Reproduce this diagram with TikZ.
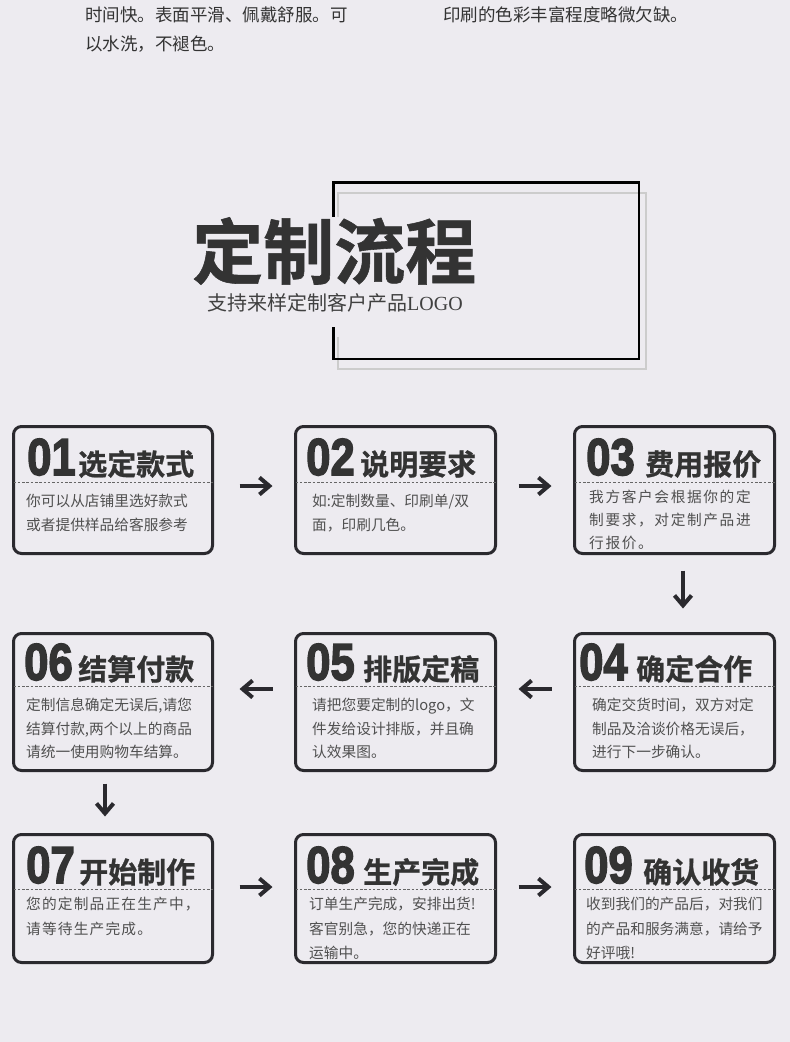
\documentclass[tikz,border=0pt]{standalone}
\usepackage{fontspec}
\usepackage{graphicx}
\usetikzlibrary{arrows.meta}
\newfontfamily\cjk{Noto Sans CJK SC}
\newfontfamily\cjkb{Noto Sans CJK SC Bold}[FakeBold=0.8]
\newfontfamily\song{Noto Sans CJK SC}
\newfontfamily\numf{Liberation Sans Bold}[FakeBold=3]
\newfontfamily\lserif{Liberation Serif}
\definecolor{bg}{RGB}{237,235,240}
\definecolor{ink}{RGB}{42,41,46}
\definecolor{headc}{RGB}{51,51,51}
\definecolor{txt}{RGB}{80,80,80}
\newcommand\stepnum[1]{\scalebox{0.84}[1]{#1}}
\tikzset{
  box/.style={draw=ink, line width=3pt, rounded corners=8pt, minimum width=199pt, inner sep=0pt},
  sepline/.style={draw=black!60, line width=0.9pt, dash pattern=on 2.5pt off 1.8pt},
  numtxt/.style={anchor=base west, inner sep=0pt, text=headc, font=\numf\fontsize{52}{52}\selectfont},
  headtxt/.style={anchor=base west, inner sep=0pt, text=headc, font=\cjkb\fontsize{29}{29}\selectfont},
  bodytxt/.style={anchor=base west, inner sep=0pt, text=txt, font=\song\fontsize{14.7}{14.7}\selectfont},
  arr/.style={draw=ink, line width=4pt, -{Straight Barb[length=10pt,width=17pt]}},
  toptxt/.style={anchor=base west, inner sep=0pt, text=headc, font=\cjk\fontsize{17.5}{17.5}\selectfont}
}
\begin{document}
\begin{tikzpicture}[x=1pt,y=-1pt]
\fill[bg] (0,0) rectangle (790,1042);
\useasboundingbox (0,0) rectangle (790,1042);

% top text
\node[toptxt] (ta) at (85,21.5) {时间快。表面平滑、佩戴舒服。可};
\node[toptxt] (tb) at (85,50.5) {以水洗，不褪色。};
\node[toptxt] (tc) at (443,21.5) {印刷的色彩丰富程度略微欠缺。};

% title frame
\draw[draw=black!20, line width=2pt] (338,193) rectangle (646,369);
\draw[draw=black, line width=2.5pt] (333.25,182.25) rectangle (638.75,358.75);
\fill[bg] (325,217) rectangle (345,327);
\fill[bg] (335,327) rectangle (341,337);
\node[anchor=west, inner sep=0pt, text=headc, font=\cjkb\fontsize{71}{71}\selectfont] (title) at (192,251) {定制流程};
\node[anchor=west, inner sep=0pt, text=black!75, font=\song\fontsize{20}{20}\selectfont] (subtitle) at (207,303) {支持来样定制客户产品{\lserif LOGO}};

% boxes
\node[box, minimum height=127pt] (b1) at (113,490) {};
\node[box, minimum height=127pt, minimum width=200pt] (b2) at (395.5,490) {};
\node[box, minimum height=127pt, minimum width=200pt] (b3) at (674.5,490) {};
\node[box, minimum height=137pt, minimum width=200pt] (b4) at (674.5,702) {};
\node[box, minimum height=137pt, minimum width=200pt] (b5) at (395.5,702) {};
\node[box, minimum height=137pt] (b6) at (113,702) {};
\node[box, minimum height=128pt] (b7) at (113,898.5) {};
\node[box, minimum height=128pt, minimum width=200pt] (b8) at (395.5,898.5) {};
\node[box, minimum height=128pt, minimum width=200pt] (b9) at (674.5,898.5) {};

% separators
\foreach \b/\y in {b1/482,b2/482,b3/482,b4/686,b5/686,b6/686,b7/889,b8/889,b9/889}{
  \draw[sepline] ([xshift=1.5pt]\b.west |- 0,\y) -- ([xshift=-1.5pt]\b.east |- 0,\y);
}

% numbers and headings
\node[numtxt] (n1) at (27,475) {\stepnum{01}};
\node[headtxt] (h1) at (78,475) {选定款式};
\node[numtxt] (n2) at (306,475) {\stepnum{02}};
\node[headtxt] (h2) at (360,475) {说明要求};
\node[numtxt] (n3) at (586,475) {\stepnum{03}};
\node[headtxt] (h3) at (645,475) {费用报价};
\node[numtxt] (n4) at (579,680) {\stepnum{04}};
\node[headtxt] (h4) at (636,680) {确定合作};
\node[numtxt] (n5) at (306,680) {\stepnum{05}};
\node[headtxt] (h5) at (363,680) {排版定稿};
\node[numtxt] (n6) at (24,680) {\stepnum{06}};
\node[headtxt] (h6) at (78,680) {结算付款};
\node[numtxt] (n7) at (26,883) {\stepnum{07}};
\node[headtxt] (h7) at (79,883) {开始制作};
\node[numtxt] (n8) at (306,883) {\stepnum{08}};
\node[headtxt] (h8) at (363,883) {生产完成};
\node[numtxt] (n9) at (584,883) {\stepnum{09}};
\node[headtxt] (h9) at (643,883) {确认收货};

% body texts
\node[bodytxt] (t1a) at (26,506) {你可以从店铺里选好款式};
\node[bodytxt] (t1b) at (26,530) {或者提供样品给客服参考};
\node[bodytxt] (t2a) at (312,506) {如:定制数量、印刷单/双};
\node[bodytxt] (t2b) at (312,530) {面，印刷几色。};
\node[bodytxt, font=\song\fontsize{14.7}{14.7}\selectfont\addfontfeature{LetterSpace=11}] (t3a) at (589,502.5) {我方客户会根据你的定};
\node[bodytxt, font=\song\fontsize{14.7}{14.7}\selectfont\addfontfeature{LetterSpace=11}] (t3b) at (589,525.5) {制要求，对定制产品进};
\node[bodytxt, font=\song\fontsize{14.7}{14.7}\selectfont\addfontfeature{LetterSpace=11}] (t3c) at (589,548.5) {行报价。};
\node[bodytxt] (t4a) at (592,710.5) {确定交货时间，双方对定};
\node[bodytxt] (t4b) at (592,734.5) {制品及洽谈价格无误后，};
\node[bodytxt] (t4c) at (592,757.5) {进行下一步确认。};
\node[bodytxt] (t5a) at (312,710.5) {请把您要定制的logo，文};
\node[bodytxt] (t5b) at (312,734.5) {件发给设计排版，并且确};
\node[bodytxt] (t5c) at (312,757.5) {认效果图。};
\node[bodytxt] (t6a) at (26,710.5) {定制信息确定无误后,请您};
\node[bodytxt] (t6b) at (26,734.5) {结算付款,两个以上的商品};
\node[bodytxt] (t6c) at (26,757.5) {请统一使用购物车结算。};
\node[bodytxt, font=\song\fontsize{14.7}{14.7}\selectfont\addfontfeature{LetterSpace=8}] (t7a) at (26,909.5) {您的定制品正在生产中，};
\node[bodytxt, font=\song\fontsize{14.7}{14.7}\selectfont\addfontfeature{LetterSpace=8}] (t7b) at (26,934) {请等待生产完成。};
\node[bodytxt] (t8a) at (309,909.5) {订单生产完成，安排出货!};
\node[bodytxt] (t8b) at (309,934) {客官别急，您的快递正在};
\node[bodytxt] (t8c) at (309,958) {运输中。};
\node[bodytxt] (t9a) at (586,909.5) {收到我们的产品后，对我们};
\node[bodytxt] (t9b) at (586,934) {的产品和服务满意，请给予};
\node[bodytxt] (t9c) at (586,958) {好评哦!};

% arrows
\draw[arr, shorten <=25.5pt, shorten >=21.5pt] ([yshift=4pt]b1.east) -- ([yshift=4pt]b2.west);
\draw[arr, shorten <=21.5pt, shorten >=21.5pt] ([yshift=4pt]b2.east) -- ([yshift=4pt]b3.west);
\draw[arr, shorten <=15.5pt, shorten >=23.5pt] ([xshift=8.5pt]b3.south) -- ([xshift=8.5pt]b4.north);
\draw[arr, shorten <=21.5pt, shorten >=21.5pt] ([yshift=13pt]b4.west) -- ([yshift=13pt]b5.east);
\draw[arr, shorten <=21.5pt, shorten >=25.5pt] ([yshift=13pt]b5.west) -- ([yshift=13pt]b6.east);
\draw[arr, shorten <=11.5pt, shorten >=16.5pt] ([xshift=-8pt]b6.south) -- ([xshift=-8pt]b7.north);
\draw[arr, shorten <=25.5pt, shorten >=21.5pt] ([yshift=11.5pt]b7.east) -- ([yshift=11.5pt]b8.west);
\draw[arr, shorten <=21.5pt, shorten >=21.5pt] ([yshift=11.5pt]b8.east) -- ([yshift=11.5pt]b9.west);
\end{tikzpicture}
\end{document}
